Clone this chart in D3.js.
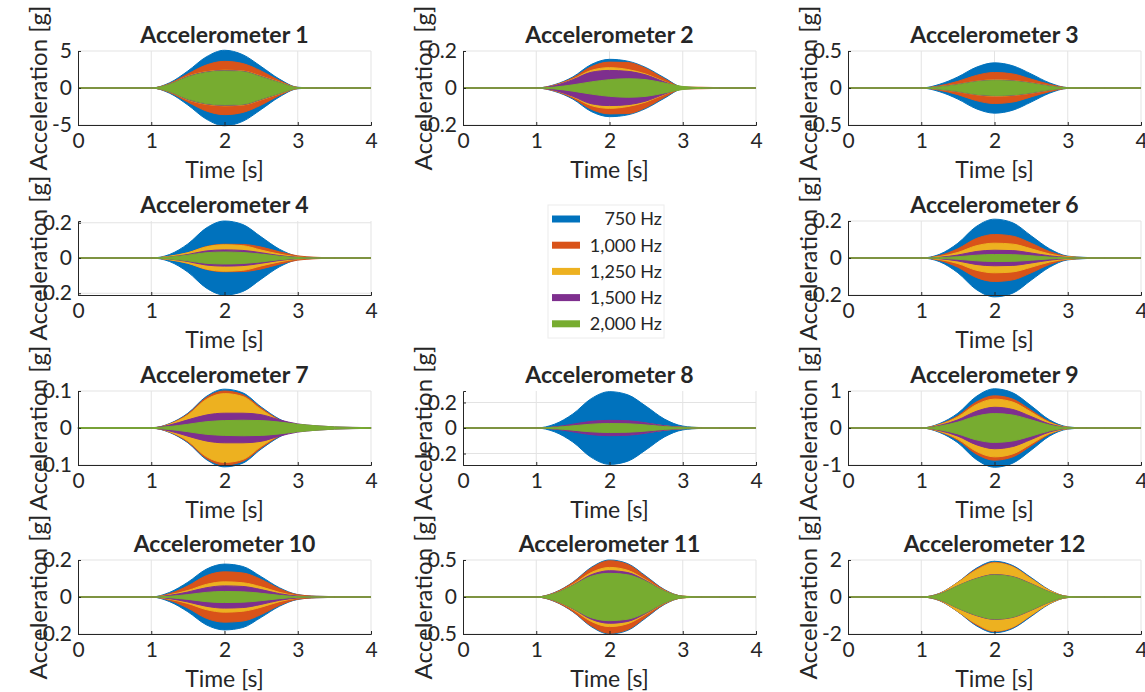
<!DOCTYPE html>
<html>
<head>
<meta charset="utf-8">
<script src="https://cdn.jsdelivr.net/npm/d3@7"></script>
<style>
  body { margin: 0; background: #fff; }
  svg { display: block; }
  text { font-family: Lato, "Open Sans", "DejaVu Sans", sans-serif; fill: #262626; }
</style>
</head>
<body>
<svg id="chart" width="1145" height="692"></svg>
<script>
// Sample instants of the amplitude envelopes [s]
const times = [0, 1, 1.25, 1.5, 1.75, 2, 2.25, 2.5, 2.75, 3, 3.25, 3.5, 4];
const bandLabels = ["750 Hz", "1,000 Hz", "1,250 Hz", "1,500 Hz", "2,000 Hz"];
const xTicks = [0, 1, 2, 3, 4];

// Envelope amplitude [g] per excitation band: 750, 1000, 1250, 1500, 2000 Hz
const acc1 = [
  [0, 0, 0.7, 2.3, 4.2, 5.1, 4.5, 2.9, 1.2, 0.1, 0, 0, 0],
  [0, 0, 0.6, 1.9, 3.1, 3.6, 3.3, 2.3, 1.0, 0.08, 0, 0, 0],
  [0, 0, 0.52, 1.6, 2.2, 2.4, 2.3, 1.6, 0.8, 0.06, 0, 0, 0],
  [0, 0, 0.5, 1.55, 2.15, 2.35, 2.25, 1.55, 0.75, 0.05, 0, 0, 0],
  [0, 0, 0.48, 1.5, 2.1, 2.3, 2.2, 1.5, 0.72, 0.05, 0, 0, 0]
];
const acc2 = [
  [0, 0, 0.018, 0.06, 0.127, 0.155, 0.145, 0.11, 0.055, 0.005, 0.002, 0, 0],
  [0, 0, 0.016, 0.055, 0.115, 0.14, 0.138, 0.105, 0.05, 0.005, 0.004, 0.002, 0],
  [0, 0, 0.014, 0.048, 0.095, 0.11, 0.1, 0.075, 0.035, 0.003, 0, 0, 0],
  [0, 0, 0.013, 0.045, 0.085, 0.095, 0.09, 0.07, 0.033, 0.003, 0, 0, 0],
  [0, 0, 0.005, 0.017, 0.033, 0.045, 0.05, 0.045, 0.027, 0.008, 0.002, 0, 0]
];
const acc3 = [
  [0, 0, 0.05, 0.15, 0.28, 0.34, 0.3, 0.19, 0.07, 0.005, 0, 0, 0],
  [0, 0, 0.03, 0.09, 0.17, 0.21, 0.19, 0.12, 0.05, 0.005, 0, 0, 0],
  [0, 0, 0.02, 0.05, 0.09, 0.11, 0.1, 0.07, 0.03, 0.003, 0, 0, 0],
  [0, 0, 0.018, 0.048, 0.088, 0.105, 0.097, 0.067, 0.028, 0.003, 0, 0, 0],
  [0, 0, 0.015, 0.045, 0.085, 0.1, 0.093, 0.063, 0.025, 0.002, 0, 0, 0]
];
const acc4 = [
  [0, 0, 0.02, 0.08, 0.17, 0.21, 0.19, 0.12, 0.05, 0.01, 0.002, 0, 0],
  [0, 0, 0.01, 0.03, 0.065, 0.078, 0.077, 0.062, 0.035, 0.012, 0.004, 0.001, 0],
  [0, 0, 0.01, 0.03, 0.063, 0.075, 0.07, 0.045, 0.022, 0.006, 0, 0, 0],
  [0, 0, 0.006, 0.02, 0.04, 0.046, 0.043, 0.03, 0.014, 0.004, 0, 0, 0],
  [0, 0, 0.005, 0.016, 0.03, 0.034, 0.031, 0.022, 0.01, 0.003, 0, 0, 0]
];
const acc6 = [
  [0, 0, 0.02, 0.08, 0.17, 0.21, 0.19, 0.12, 0.05, 0.01, 0.003, 0, 0],
  [0, 0, 0.013, 0.05, 0.105, 0.127, 0.118, 0.08, 0.035, 0.008, 0.002, 0, 0],
  [0, 0, 0.008, 0.03, 0.066, 0.08, 0.075, 0.05, 0.022, 0.006, 0.002, 0, 0],
  [0, 0, 0.004, 0.016, 0.035, 0.042, 0.04, 0.027, 0.012, 0.003, 0, 0, 0],
  [0, 0, 0.002, 0.007, 0.015, 0.019, 0.018, 0.012, 0.005, 0.001, 0, 0, 0]
];
const acc7 = [
  [0, 0, 0.012, 0.04, 0.085, 0.105, 0.095, 0.057, 0.024, 0.005, 0, 0, 0],
  [0, 0, 0.011, 0.038, 0.082, 0.1, 0.09, 0.054, 0.022, 0.005, 0, 0, 0],
  [0, 0, 0.01, 0.035, 0.077, 0.093, 0.085, 0.05, 0.02, 0.005, 0, 0, 0],
  [0.001, 0.001, 0.008, 0.022, 0.035, 0.04, 0.04, 0.036, 0.022, 0.011, 0.006, 0.003, 0.001],
  [0.001, 0.001, 0.004, 0.01, 0.017, 0.02, 0.021, 0.02, 0.016, 0.01, 0.006, 0.003, 0.001]
];
const acc8 = [
  [0, 0, 0.03, 0.11, 0.23, 0.285, 0.26, 0.17, 0.07, 0.015, 0.003, 0, 0],
  [0, 0, 0.006, 0.022, 0.045, 0.05, 0.048, 0.035, 0.015, 0.004, 0, 0, 0],
  [0, 0, 0.007, 0.025, 0.048, 0.055, 0.052, 0.037, 0.017, 0.006, 0.004, 0.002, 0],
  [0, 0, 0.008, 0.03, 0.052, 0.06, 0.057, 0.04, 0.018, 0.005, 0, 0, 0],
  [0, 0, 0.005, 0.017, 0.03, 0.035, 0.033, 0.024, 0.011, 0.003, 0, 0, 0]
];
const acc9 = [
  [0, 0, 0.12, 0.4, 0.85, 1.06, 0.95, 0.6, 0.22, 0.03, 0, 0, 0],
  [0, 0, 0.1, 0.33, 0.7, 0.87, 0.78, 0.48, 0.17, 0.02, 0, 0, 0],
  [0, 0, 0.09, 0.3, 0.63, 0.78, 0.7, 0.43, 0.15, 0.02, 0, 0, 0],
  [0, 0, 0.07, 0.22, 0.45, 0.56, 0.5, 0.31, 0.11, 0.015, 0, 0, 0],
  [0, 0, 0.05, 0.16, 0.32, 0.39, 0.35, 0.22, 0.08, 0.01, 0, 0, 0]
];
const acc10 = [
  [0, 0, 0.025, 0.08, 0.15, 0.178, 0.165, 0.11, 0.05, 0.013, 0.004, 0.002, 0],
  [0, 0, 0.018, 0.06, 0.115, 0.136, 0.13, 0.095, 0.045, 0.012, 0.004, 0.002, 0],
  [0, 0, 0.012, 0.035, 0.068, 0.082, 0.077, 0.055, 0.025, 0.006, 0, 0, 0],
  [0, 0, 0.009, 0.027, 0.05, 0.06, 0.057, 0.04, 0.018, 0.005, 0, 0, 0],
  [0, 0, 0.004, 0.013, 0.025, 0.03, 0.028, 0.02, 0.009, 0.002, 0, 0, 0]
];
const acc11 = [
  [0, 0, 0.06, 0.2, 0.4, 0.5, 0.45, 0.28, 0.1, 0.01, 0, 0, 0],
  [0, 0, 0.058, 0.195, 0.39, 0.49, 0.44, 0.27, 0.095, 0.01, 0, 0, 0],
  [0, 0, 0.05, 0.17, 0.33, 0.4, 0.36, 0.23, 0.085, 0.012, 0.003, 0, 0],
  [0, 0, 0.048, 0.16, 0.3, 0.355, 0.33, 0.22, 0.08, 0.01, 0, 0, 0],
  [0, 0, 0.046, 0.155, 0.28, 0.32, 0.3, 0.21, 0.078, 0.01, 0, 0, 0]
];
const acc12 = [
  [0, 0, 0.2, 0.8, 1.55, 1.93, 1.7, 1.05, 0.38, 0.03, 0, 0, 0],
  [0, 0, 0.19, 0.79, 1.5, 1.87, 1.65, 1.0, 0.36, 0.03, 0, 0, 0],
  [0, 0, 0.18, 0.78, 1.45, 1.84, 1.62, 0.98, 0.35, 0.03, 0, 0, 0],
  [0, 0, 0.16, 0.61, 1.0, 1.21, 1.1, 0.72, 0.28, 0.02, 0, 0, 0],
  [0, 0, 0.15, 0.6, 0.98, 1.19, 1.08, 0.7, 0.27, 0.02, 0, 0, 0]
];

// One entry per sensor; grid slot 4 (row 2, column 2) holds the legend
const panelTitles = ["Accelerometer 1", "Accelerometer 2", "Accelerometer 3", "Accelerometer 4",
  "Accelerometer 6", "Accelerometer 7", "Accelerometer 8", "Accelerometer 9",
  "Accelerometer 10", "Accelerometer 11", "Accelerometer 12"];
const panelEnvelopes = [acc1, acc2, acc3, acc4, acc6, acc7, acc8, acc9, acc10, acc11, acc12];
const panelLimits = [5, 0.2, 0.5, 0.21, 0.2, 0.1, 0.29, 1, 0.2, 0.5, 2];
const panelTicks = [[-5, 0, 5], [-0.2, 0, 0.2], [-0.5, 0, 0.5], [-0.2, 0, 0.2], [-0.2, 0, 0.2],
  [-0.1, 0, 0.1], [-0.2, 0, 0.2], [-1, 0, 1], [-0.2, 0, 0.2], [-0.5, 0, 0.5], [-2, 0, 2]];
const panelSlots = [0, 1, 2, 3, 5, 6, 7, 8, 9, 10, 11];

// Layout and style
const bandColors = ["#0072BD", "#D95319", "#EDB120", "#7E2F8E", "#77AC30"];
const colLeft = [78, 463, 848];
const rowTop = [51, 221, 391, 560];
const plotW = 293, plotH = 74;

const svg = d3.select("#chart");

panelTitles.forEach((title, i) => {
  const slot = panelSlots[i];
  const row = Math.floor(slot / 3), col = slot % 3;
  const g = svg.append("g").attr("transform", `translate(${colLeft[col]},${rowTop[row]})`);
  const lim = panelLimits[i];

  const x = d3.scaleLinear().domain([0, 4]).range([0, plotW]);
  const y = d3.scaleLinear().domain([-lim, lim]).range([plotH, 0]);

  // grid
  g.append("g").selectAll("line.gx").data(xTicks.slice(1)).join("line")
    .attr("x1", d => x(d)).attr("x2", d => x(d)).attr("y1", 0).attr("y2", plotH)
    .attr("stroke", "#e3e3e3").attr("stroke-width", 1);
  g.append("g").selectAll("line.gy").data(panelTicks[i]).join("line")
    .attr("x1", 0).attr("x2", plotW).attr("y1", d => y(d)).attr("y2", d => y(d))
    .attr("stroke", "#e3e3e3").attr("stroke-width", 1);

  // envelope bands, lowest frequency underneath
  const area = d3.area()
    .x((d, k) => x(times[k]))
    .y0(d => y(-d))
    .y1(d => y(d))
    .curve(d3.curveMonotoneX);
  g.append("g").selectAll("path").data(panelEnvelopes[i]).join("path")
    .attr("d", area)
    .attr("fill", (d, k) => bandColors[k])
    .attr("stroke", (d, k) => bandColors[k])
    .attr("stroke-width", 1);

  // axes
  const xAxis = d3.axisBottom(x).tickValues(xTicks).tickFormat(d => String(d)).tickSize(-3).tickPadding(8);
  const yAxis = d3.axisLeft(y).tickValues(panelTicks[i]).tickFormat(d => String(d)).tickSize(-3).tickPadding(6);
  const gx = g.append("g").attr("transform", `translate(0,${plotH})`).call(xAxis);
  const gy = g.append("g").call(yAxis);
  [gx, gy].forEach(a => {
    a.select(".domain").attr("stroke", "#262626");
    a.selectAll(".tick line").attr("stroke", "#262626");
    a.selectAll(".tick text").attr("font-size", 21).attr("fill", "#262626")
      .style("font-family", "Lato, 'Open Sans', sans-serif");
  });

  g.append("text").attr("x", plotW / 2).attr("y", -8)
    .attr("text-anchor", "middle").attr("font-size", 23).attr("font-weight", "bold")
    .attr("fill", "#000").text(title);
  g.append("text").attr("x", plotW / 2).attr("y", plotH + 53)
    .attr("text-anchor", "middle").attr("font-size", 23).text("Time [s]");
  g.append("text").attr("transform", `translate(-31,${plotH / 2}) rotate(-90)`)
    .attr("text-anchor", "middle").attr("font-size", 24).text("Acceleration [g]");
});

// legend
const leg = svg.append("g");
leg.append("rect").attr("x", 548).attr("y", 205).attr("width", 116).attr("height", 133)
  .attr("fill", "#fff").attr("stroke", "#ececec");
const legItems = leg.selectAll("g.item").data(bandLabels).join("g")
  .attr("transform", (d, k) => `translate(0,${219 + k * 26.2})`);
legItems.append("rect").attr("x", 552).attr("y", -3.5).attr("width", 28).attr("height", 7)
  .attr("fill", (d, k) => bandColors[k]);
legItems.append("text").attr("x", 662).attr("y", 0).attr("dy", "0.35em")
  .attr("text-anchor", "end").attr("font-size", 18).text(d => d);
</script>
</body>
</html>
